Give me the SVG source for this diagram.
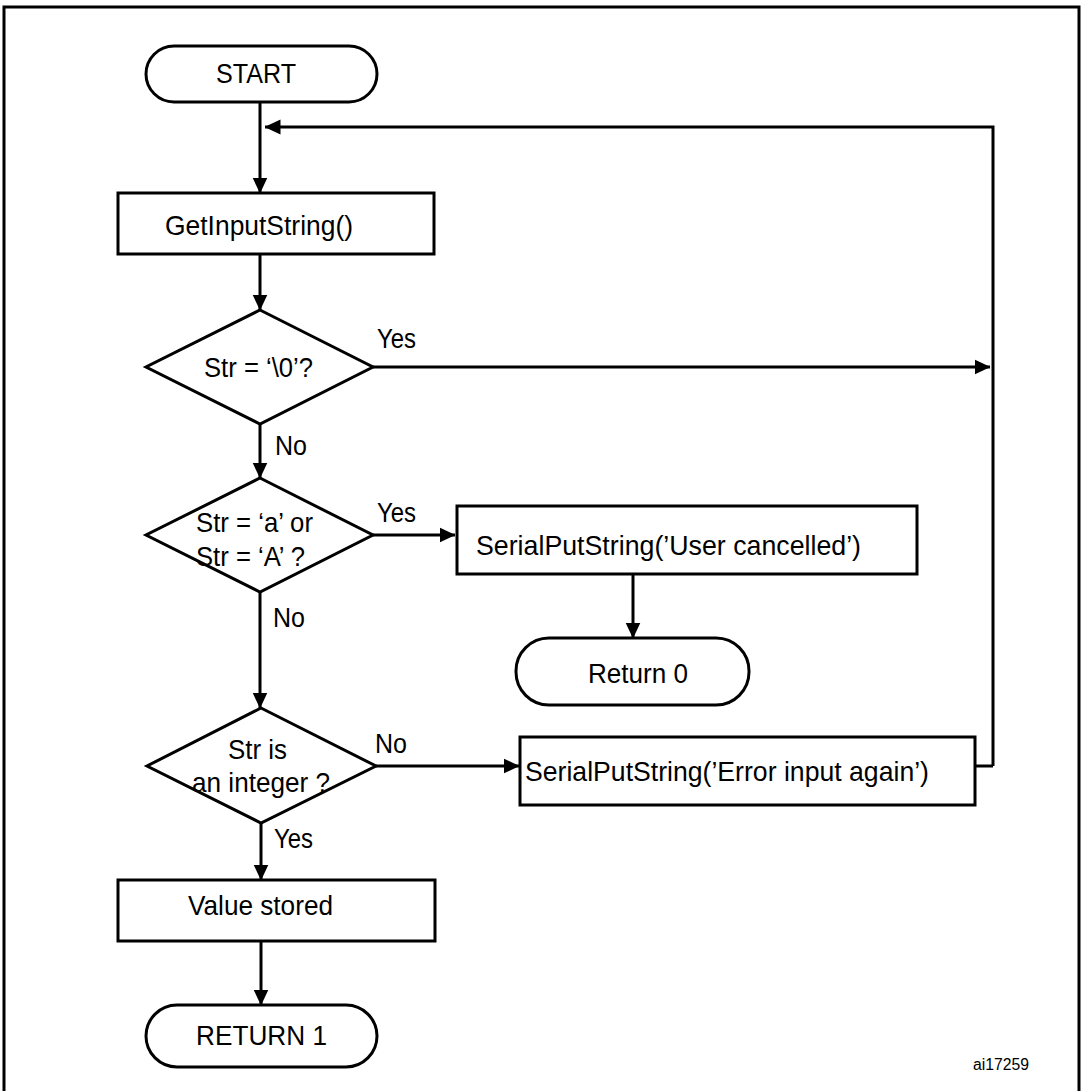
<svg xmlns="http://www.w3.org/2000/svg" width="1082" height="1091" viewBox="0 0 1082 1091">
<defs>
<marker id="ah" markerUnits="userSpaceOnUse" markerWidth="16" markerHeight="16" viewBox="0 0 16 16" refX="15.5" refY="8" orient="auto">
<path d="M0,0.5 L16,8 L0,15.5 Z" fill="#000"/>
</marker>
</defs>
<style>
.s{fill:#fff;stroke:#000;stroke-width:3}
.c{fill:none;stroke:#000;stroke-width:3}
.t{font-family:"Liberation Sans",Arial,Helvetica,sans-serif;font-size:27.5px;fill:#000}
.l{font-family:"Liberation Sans",Arial,Helvetica,sans-serif;font-size:27px;fill:#000}
.id{font-family:"Liberation Sans",Arial,Helvetica,sans-serif;font-size:16px;fill:#000}
</style>
<rect width="1082" height="1091" fill="#fff"/>
<path d="M4,1091 V7 H1079 V1091" fill="none" stroke="#000" stroke-width="3"/>
<g id="connectors">
<path class="c" d="M260,102 V193" marker-end="url(#ah)"/>
<path class="c" d="M993,766 V127 H265" marker-end="url(#ah)"/>
<path class="c" d="M975,766 H993"/>
<path class="c" d="M260,254 V310" marker-end="url(#ah)"/>
<path class="c" d="M373,367 H990" marker-end="url(#ah)"/>
<path class="c" d="M260,424 V478" marker-end="url(#ah)"/>
<path class="c" d="M373,535 H455" marker-end="url(#ah)"/>
<path class="c" d="M633,574 V638" marker-end="url(#ah)"/>
<path class="c" d="M260,592 V708" marker-end="url(#ah)"/>
<path class="c" d="M376,766 H519" marker-end="url(#ah)"/>
<path class="c" d="M261,823 V880" marker-end="url(#ah)"/>
<path class="c" d="M261,941 V1005" marker-end="url(#ah)"/>
<text class="l" x="377" y="348" textLength="39" lengthAdjust="spacingAndGlyphs">Yes</text>
<text class="l" x="275" y="455" textLength="32" lengthAdjust="spacingAndGlyphs">No</text>
<text class="l" x="377" y="522" textLength="39" lengthAdjust="spacingAndGlyphs">Yes</text>
<text class="l" x="273" y="627" textLength="32" lengthAdjust="spacingAndGlyphs">No</text>
<text class="l" x="375" y="753" textLength="32" lengthAdjust="spacingAndGlyphs">No</text>
<text class="l" x="274" y="848" textLength="39" lengthAdjust="spacingAndGlyphs">Yes</text>
</g>
<g id="start">
<rect class="s" x="146" y="46" width="231" height="56" rx="28" ry="28"/>
<text class="t" x="216" y="83" textLength="80" lengthAdjust="spacingAndGlyphs">START</text>
</g>
<g id="getinput">
<rect class="s" x="118" y="193" width="316" height="61"/>
<text class="t" x="165" y="235" textLength="188" lengthAdjust="spacingAndGlyphs">GetInputString()</text>
</g>
<g id="check-null">
<polygon class="s" points="260,310 373,367 260,424 146,367"/>
<text class="t" x="204" y="377" textLength="109" lengthAdjust="spacingAndGlyphs">Str = ‘\0’?</text>
</g>
<g id="check-abort">
<polygon class="s" points="260,478 373,535 260,592 146,535"/>
<text class="t" x="196" y="532" textLength="117" lengthAdjust="spacingAndGlyphs">Str = ‘a’ or</text>
<text class="t" x="196" y="566" textLength="109" lengthAdjust="spacingAndGlyphs">Str = ‘A’ ?</text>
</g>
<g id="user-cancelled">
<rect class="s" x="457" y="506" width="460" height="68"/>
<text class="t" x="476" y="555" textLength="385" lengthAdjust="spacingAndGlyphs">SerialPutString(’User cancelled’)</text>
</g>
<g id="return0">
<rect class="s" x="516" y="638" width="233" height="67" rx="33" ry="33"/>
<text class="t" x="588" y="683" textLength="100" lengthAdjust="spacingAndGlyphs">Return 0</text>
</g>
<g id="check-int">
<polygon class="s" points="261,708 376,766 261,823 147,766"/>
<text class="t" x="228" y="759" textLength="59" lengthAdjust="spacingAndGlyphs">Str is</text>
<text class="t" x="192" y="792" textLength="138" lengthAdjust="spacingAndGlyphs">an integer ?</text>
</g>
<g id="error-again">
<rect class="s" x="520" y="737" width="455" height="68"/>
<text class="t" x="525" y="781" textLength="404" lengthAdjust="spacingAndGlyphs">SerialPutString(’Error input again’)</text>
</g>
<g id="value-stored">
<rect class="s" x="118" y="880" width="317" height="61"/>
<text class="t" x="188" y="915" textLength="145" lengthAdjust="spacingAndGlyphs">Value stored</text>
</g>
<g id="return1">
<rect class="s" x="146" y="1005" width="231" height="62" rx="31" ry="31"/>
<text class="t" x="196" y="1045" textLength="131" lengthAdjust="spacingAndGlyphs">RETURN 1</text>
</g>
<text class="id" x="973" y="1070" textLength="56" lengthAdjust="spacingAndGlyphs">ai17259</text>
</svg>
